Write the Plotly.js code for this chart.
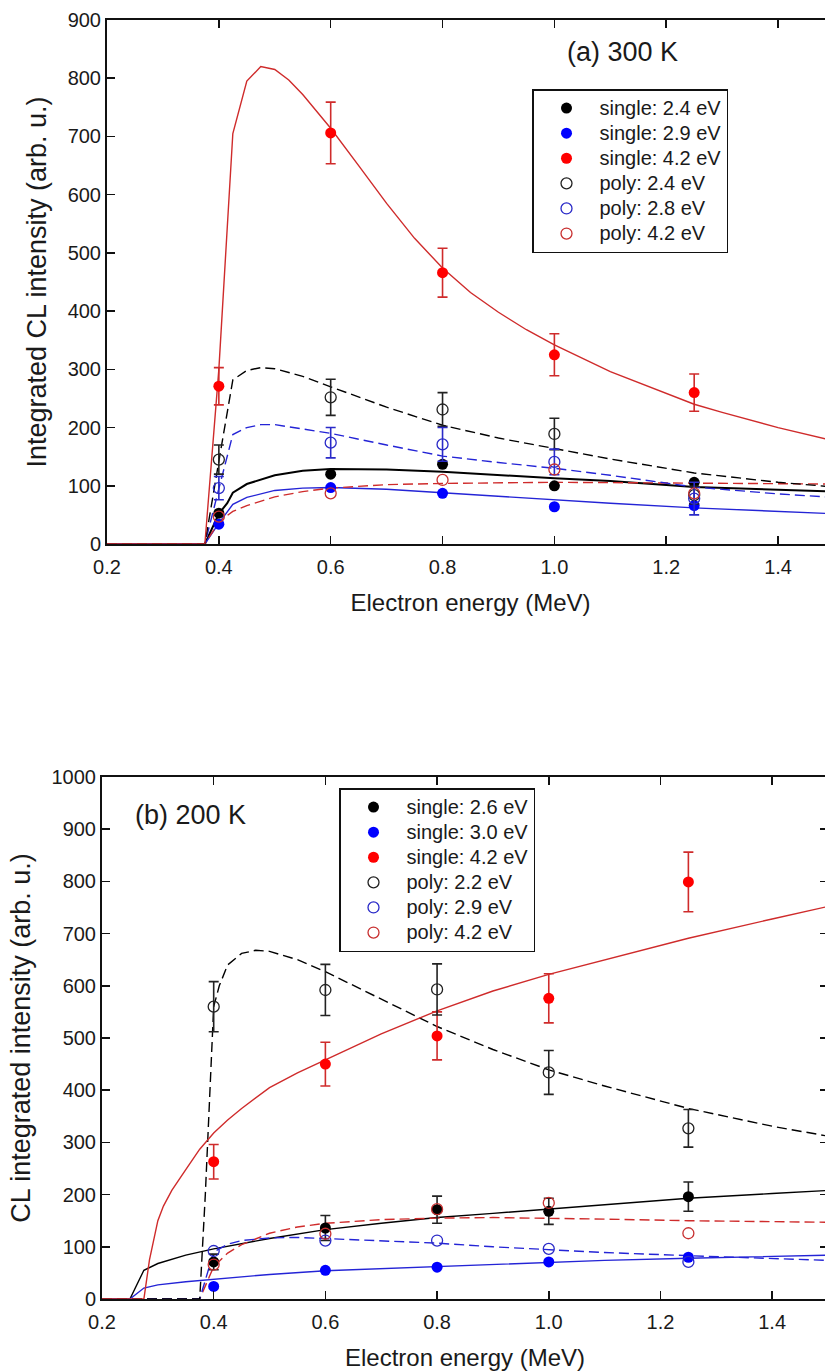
<!DOCTYPE html>
<html>
<head>
<meta charset="utf-8">
<script src="https://cdn.plot.ly/plotly-3.0.1.min.js"></script>
<style>
html, body { margin: 0; padding: 0; overflow: hidden; background: #fff; }
#chart { width: 845px; height: 1371px; }
</style>
</head>
<body>
<div id="chart"></div>
<script>
// ---------- shared ----------
const energies = [0.4, 0.6, 0.8, 1.0, 1.25];   // measured electron energies (MeV)

// ---------- panel (a) 300 K : measured points ----------
const aSingle24 = [53, 120, 137, 100, 106];
const aSingle29 = [34, 97, 87, 64, 66];
const aSingle42 = [271, 706, 466, 325, 260];
const aSingle42Err = [32, 53, 42, 36, 32];
const aPoly24 = [145, 252, 231, 189, 84];
const aPoly24Err = [25, 31, 29, 27, 15];
const aPoly28 = [96, 174, 171, 141, 78];
const aPoly28Err = [20, 26, 29, 22, 28];
const aPoly42 = [47, 87, 110, 128, 87];

// ---------- panel (a) fit curves ----------
const aFitSingle42X = [0.2, 0.375, 0.4, 0.425, 0.45, 0.475, 0.5, 0.525, 0.55, 0.575, 0.6, 0.65, 0.7, 0.75, 0.8, 0.85, 0.9, 0.95, 1.0, 1.1, 1.2, 1.25, 1.3, 1.4, 1.5];
const aFitSingle42Y = [0, 0, 300, 705, 795, 820, 815, 797, 772, 744, 714, 650, 585, 525, 474, 432, 398, 368, 342, 296, 258, 240, 226, 200, 177];
const aFitPoly24X = [0.2, 0.375, 0.4, 0.425, 0.45, 0.475, 0.5, 0.55, 0.6, 0.7, 0.8, 0.9, 1.0, 1.1, 1.25, 1.4, 1.5];
const aFitPoly24Y = [0, 0, 142, 282, 298, 303, 301, 288, 270, 235, 204, 182, 164, 146, 122, 106, 98];
const aFitPoly28X = [0.2, 0.375, 0.4, 0.425, 0.45, 0.475, 0.5, 0.6, 0.7, 0.8, 0.9, 1.0, 1.1, 1.25, 1.4, 1.5];
const aFitPoly28Y = [0, 0, 95, 188, 200, 205, 205, 190, 170, 151, 140, 130, 118, 98, 86, 80];
const aFitSingle24X = [0.2, 0.375, 0.4, 0.415, 0.425, 0.45, 0.5, 0.55, 0.6, 0.7, 0.8, 0.9, 1.0, 1.1, 1.25, 1.4, 1.5];
const aFitSingle24Y = [0, 0, 52, 70, 88, 103, 118, 126, 129, 128, 124, 118, 113, 108, 98, 93, 90];
const aFitSingle29X = [0.2, 0.375, 0.4, 0.425, 0.45, 0.5, 0.55, 0.6, 0.7, 0.8, 0.9, 1.0, 1.1, 1.25, 1.4, 1.5];
const aFitSingle29Y = [0, 0, 36, 68, 80, 92, 96, 97, 94, 88, 81, 75, 70, 62, 56, 52];
const aFitPoly42X = [0.2, 0.375, 0.4, 0.425, 0.45, 0.5, 0.55, 0.6, 0.7, 0.8, 1.0, 1.25, 1.5];
const aFitPoly42Y = [0, 0, 38, 56, 66, 81, 90, 96, 102, 104, 106, 105, 103];

// ---------- panel (b) 200 K : measured points ----------
const bSingle26 = [71, 136, 171, 168, 196];
const bSingle26Err = [15, 24, 26, 25, 28];
const bSingle30 = [24, 55, 61, 71, 80];
const bSingle42 = [263, 450, 504, 576, 799];
const bSingle42Err = [33, 42, 46, 47, 57];
const bPoly22 = [560, 592, 593, 434, 327];
const bPoly22Err = [48, 49, 49, 42, 36];
const bPoly29 = [92, 112, 112, 96, 71];
const bPoly42 = [66, 125, 172, 184, 126];

// ---------- panel (b) fit curves ----------
const bFitSingle42X = [0.2, 0.275, 0.285, 0.3, 0.31, 0.325, 0.35, 0.375, 0.4, 0.425, 0.45, 0.5, 0.55, 0.6, 0.7, 0.8, 0.9, 1.0, 1.1, 1.25, 1.4, 1.5];
const bFitSingle42Y = [0, 0, 75, 150, 178, 208, 248, 287, 318, 343, 365, 405, 433, 458, 508, 552, 590, 622, 650, 691, 728, 752];
const bFitPoly22X = [0.2, 0.375, 0.385, 0.395, 0.4, 0.41, 0.425, 0.45, 0.475, 0.5, 0.55, 0.6, 0.7, 0.8, 0.9, 1.0, 1.1, 1.25, 1.4, 1.5];
const bFitPoly22Y = [0, 0, 200, 450, 560, 600, 640, 662, 668, 666, 650, 627, 575, 522, 478, 439, 408, 365, 331, 312];
const bFitSingle26X = [0.2, 0.25, 0.275, 0.3, 0.35, 0.4, 0.5, 0.6, 0.7, 0.8, 0.9, 1.0, 1.1, 1.25, 1.4, 1.5];
const bFitSingle26Y = [0, 0, 55, 68, 84, 96, 116, 133, 145, 156, 164, 172, 180, 193, 202, 208];
const bFitSingle30X = [0.2, 0.25, 0.275, 0.3, 0.35, 0.4, 0.5, 0.6, 0.7, 0.8, 0.9, 1.0, 1.1, 1.25, 1.4, 1.5];
const bFitSingle30Y = [0, 0, 21, 27, 33, 38, 47, 54, 58, 62, 67, 71, 74, 78, 82, 84];
const bFitPoly29X = [0.2, 0.375, 0.4, 0.425, 0.45, 0.5, 0.55, 0.6, 0.7, 0.8, 0.9, 1.0, 1.1, 1.25, 1.4, 1.5];
const bFitPoly29Y = [0, 0, 90, 105, 112, 117, 118, 116, 112, 107, 100, 94, 89, 83, 77, 74];
const bFitPoly42X = [0.2, 0.375, 0.4, 0.425, 0.45, 0.5, 0.55, 0.6, 0.7, 0.8, 0.9, 1.0, 1.1, 1.25, 1.4, 1.5];
const bFitPoly42Y = [0, 0, 62, 88, 104, 126, 138, 145, 152, 155, 156, 155, 153, 150, 148, 147];

// ---------- labels ----------
const aLabels = ['single: 2.4 eV', 'single: 2.9 eV', 'single: 4.2 eV', 'poly: 2.4 eV', 'poly: 2.8 eV', 'poly: 4.2 eV'];
const bLabels = ['single: 2.6 eV', 'single: 3.0 eV', 'single: 4.2 eV', 'poly: 2.2 eV', 'poly: 2.9 eV', 'poly: 4.2 eV'];
const xTitle = 'Electron energy (MeV)';
const aYTitle = 'Integrated CL intensity (arb. u.)';
const bYTitle = 'CL integrated intensity (arb. u.)';
const aPanelLabel = '(a) 300 K';
const bPanelLabel = '(b) 200 K';

// ---------- styles ----------
const RED_LINE = '#cf2b2b', BLUE_LINE = '#2424d6', BLACK = '#000000';
const RED_PT = '#ff0000', BLUE_PT = '#0000ff';
const DASH = '10px,5px';

function fit(x, y, color, dash, width, xa, ya) {
  return {x: x, y: y, type: 'scatter', mode: 'lines', xaxis: xa, yaxis: ya,
          line: {color: color, width: width, dash: dash || 'solid'}, showlegend: false, hoverinfo: 'skip'};
}
function pts(y, err, name, color, open, errColor, xa, ya, legend) {
  const t = {x: energies, y: y, type: 'scatter', mode: 'markers',
    name: '<span style="font-size:20px">' + name + '</span>', xaxis: xa, yaxis: ya, legend: legend,
    marker: open ? {symbol: 'circle-open', size: 11, color: color, line: {width: 1.3, color: color}}
                 : {symbol: 'circle', size: 11, color: color, line: {width: 0}}};
  if (err) t.error_y = {type: 'data', array: err, visible: true, color: errColor, thickness: 1.6, width: 5};
  return t;
}

const traces = [
  // panel (a) fits
  fit(aFitSingle24X, aFitSingle24Y, BLACK, null, 2, 'x', 'y'),
  fit(aFitSingle29X, aFitSingle29Y, BLUE_LINE, null, 1.4, 'x', 'y'),
  fit(aFitPoly42X, aFitPoly42Y, RED_LINE, DASH, 1.4, 'x', 'y'),
  fit(aFitPoly28X, aFitPoly28Y, BLUE_LINE, DASH, 1.4, 'x', 'y'),
  fit(aFitPoly24X, aFitPoly24Y, BLACK, DASH, 1.4, 'x', 'y'),
  fit(aFitSingle42X, aFitSingle42Y, RED_LINE, null, 1.4, 'x', 'y'),
  // panel (a) points
  pts(aSingle24, null, aLabels[0], BLACK, false, null, 'x', 'y', 'legend'),
  pts(aSingle29, null, aLabels[1], BLUE_PT, false, null, 'x', 'y', 'legend'),
  pts(aSingle42, aSingle42Err, aLabels[2], RED_PT, false, RED_LINE, 'x', 'y', 'legend'),
  pts(aPoly24, aPoly24Err, aLabels[3], '#222222', true, '#222222', 'x', 'y', 'legend'),
  pts(aPoly28, aPoly28Err, aLabels[4], '#2a2ac8', true, '#2a2ac8', 'x', 'y', 'legend'),
  pts(aPoly42, null, aLabels[5], '#c83030', true, null, 'x', 'y', 'legend'),
  // panel (b) fits
  fit(bFitSingle26X, bFitSingle26Y, BLACK, null, 1.4, 'x2', 'y2'),
  fit(bFitSingle30X, bFitSingle30Y, BLUE_LINE, null, 1.4, 'x2', 'y2'),
  fit(bFitPoly42X, bFitPoly42Y, RED_LINE, DASH, 1.4, 'x2', 'y2'),
  fit(bFitPoly29X, bFitPoly29Y, BLUE_LINE, DASH, 1.4, 'x2', 'y2'),
  fit(bFitPoly22X, bFitPoly22Y, BLACK, DASH, 1.4, 'x2', 'y2'),
  fit(bFitSingle42X, bFitSingle42Y, RED_LINE, null, 1.4, 'x2', 'y2'),
  // panel (b) points
  pts(bSingle26, bSingle26Err, bLabels[0], BLACK, false, '#222222', 'x2', 'y2', 'legend2'),
  pts(bSingle30, null, bLabels[1], BLUE_PT, false, null, 'x2', 'y2', 'legend2'),
  pts(bSingle42, bSingle42Err, bLabels[2], RED_PT, false, RED_LINE, 'x2', 'y2', 'legend2'),
  pts(bPoly22, bPoly22Err, bLabels[3], '#222222', true, '#222222', 'x2', 'y2', 'legend2'),
  pts(bPoly29, null, bLabels[4], '#2a2ac8', true, null, 'x2', 'y2', 'legend2'),
  pts(bPoly42, null, bLabels[5], '#c83030', true, null, 'x2', 'y2', 'legend2')
];

const W = 845, H = 1371;
const FONT = 'Liberation Sans, Arial, Helvetica, sans-serif';
function xAxis(domain, anchor) {
  return {domain: domain, anchor: anchor, range: [0.2, 1.5], tick0: 0.2, dtick: 0.2, tickformat: '.1f',
    ticks: 'inside', ticklen: 8, tickwidth: 1.5, tickcolor: '#111', showline: true, linewidth: 2, linecolor: '#111',
    mirror: 'ticks', showgrid: false, zeroline: false, tickfont: {size: 20, color: '#1a1a1a'}, ticklabelstandoff: 4,
    title: {text: xTitle, font: {size: 24, color: '#1a1a1a'}, standoff: 17}};
}
function yAxis(domain, anchor, max, title, standoff) {
  return {domain: domain, anchor: anchor, range: [0, max], tick0: 0, dtick: 100,
    ticks: 'inside', ticklen: 8, tickwidth: 1.5, tickcolor: '#111', showline: true, linewidth: 2, linecolor: '#111',
    mirror: 'ticks', showgrid: false, zeroline: false, tickfont: {size: 20, color: '#1a1a1a'},
    title: {text: title, font: {size: 27, color: '#1a1a1a'}, standoff: standoff}};
}
function legendBox(x, y) {
  return {x: x, y: y, xanchor: 'left', yanchor: 'top', bgcolor: '#ffffff', bordercolor: '#111', borderwidth: 1.5,
    font: {size: 17, color: '#1a1a1a'}, tracegroupgap: 0, itemwidth: 56};
}

const layout = {
  width: W, height: H,
  margin: {l: 0, r: 0, t: 0, b: 0},
  paper_bgcolor: '#ffffff', plot_bgcolor: '#ffffff',
  font: {family: FONT, color: '#1a1a1a'},
  showlegend: true,
  xaxis: xAxis([107 / W, 834 / W], 'y'),
  yaxis: yAxis([1 - 544 / H, 1 - 20 / H], 'x', 900, aYTitle, 13),
  xaxis2: xAxis([102 / W, 828 / W], 'y2'),
  yaxis2: yAxis([1 - 1299 / H, 1 - 777 / H], 'x2', 1000, bYTitle, 13),
  legend: legendBox(532 / W, 1 - 89 / H),
  legend2: legendBox(339 / W, 1 - 788 / H),
  annotations: [
    {text: aPanelLabel, xref: 'paper', yref: 'paper', x: 622 / W, y: 1 - 52 / H, xanchor: 'center', yanchor: 'middle',
     showarrow: false, font: {size: 27, color: '#1a1a1a'}},
    {text: bPanelLabel, xref: 'paper', yref: 'paper', x: 190 / W, y: 1 - 815 / H, xanchor: 'center', yanchor: 'middle',
     showarrow: false, font: {size: 27, color: '#1a1a1a'}}
  ]
};

Plotly.newPlot('chart', traces, layout, {staticPlot: true, displayModeBar: false});
</script>
</body>
</html>
